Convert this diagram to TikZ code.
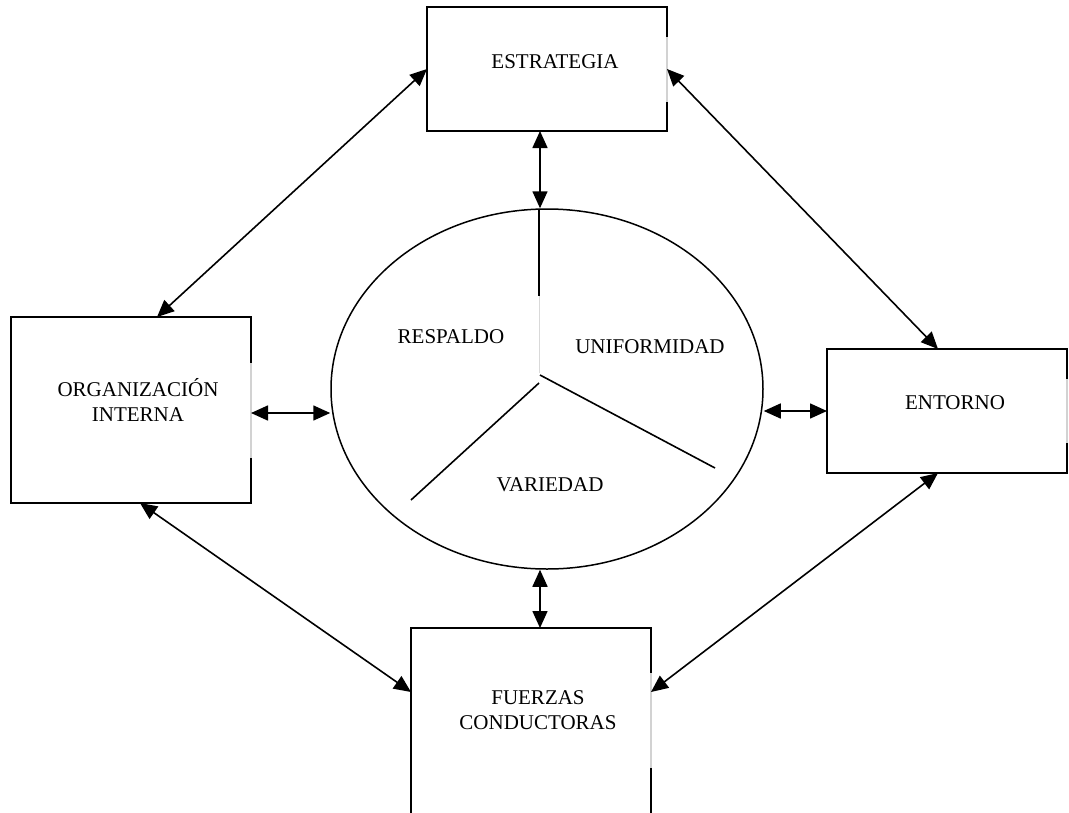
\documentclass[tikz,border=0pt]{standalone}
\usepackage{fontspec}
\setmainfont{Liberation Serif}
\usetikzlibrary{arrows.meta,shapes.geometric,calc}
\tikzset{
  box/.style={draw, line width=2pt, rectangle, minimum width=240pt, inner sep=0pt, outer sep=0pt},
  lbl/.style={font=\fontsize{21}{25}\selectfont, align=center, inner sep=0pt},
  link/.style={line width=1.6pt, {Triangle[length=17pt,width=15pt]}-{Triangle[length=17pt,width=15pt]}},
  gapline/.style={draw=gray!35, line width=2.2pt},
  divider/.style={line width=1.6pt},
}
\begin{document}
\begin{tikzpicture}[x=1pt,y=-1pt]
\useasboundingbox (0,0) rectangle (1069,812);
\fill[white] (0,0) rectangle (1069,812);
% boxes
\node[box, minimum height=124pt] (E) at (547,69) {};
\node[box, minimum height=186pt] (O) at (131,410) {};
\node[box, minimum height=124pt] (N) at (947,411) {};
\node[box, minimum height=190pt] (F) at (531,723) {};
% faint gaps on right edges
\draw[gapline] (667,37) -- (667,102);
\draw[gapline] (251,363) -- (251,458);
\draw[gapline] (1067,379) -- (1067,443);
\draw[gapline] (651,673) -- (651,768);
% texts
\node[lbl] (Et) at (555,62) {ESTRATEGIA};
\node[lbl] (Ot) at (138,400) {ORGANIZACIÓN\\INTERNA};
\node[lbl] (Nt) at (955,403) {ENTORNO};
\node[lbl] (Ft) at (538,710) {FUERZAS\\CONDUCTORAS};
% ellipse
\node[draw, ellipse, line width=1.5pt, minimum width=432pt, minimum height=360pt, inner sep=0pt] (ell) at (547,389) {};
\coordinate (c) at (540,375);
\draw[divider] (539,209) -- (539,296);
\draw[draw=gray!30, line width=1pt] (539,296) -- (539,373);
\draw[divider] (c) -- (715,468);
\draw[divider] (539,383) -- (411,500);
\node[lbl] (R) at (451,337) {RESPALDO};
\node[lbl] (U) at (650,347) {UNIFORMIDAD};
\node[lbl] (V) at (550,485) {VARIEDAD};
% connectors
\draw[link] (E.west) -- ([xshift=26pt]O.north);
\draw[link] (E.east) -- ([xshift=-9pt]N.north);
\draw[link] ([xshift=9pt]O.south) -- ([yshift=31pt]F.west);
\draw[link] ([xshift=-9pt]N.south) -- ([yshift=31pt]F.east);
\draw[link] ([yshift=-3pt]O.east) -- ([yshift=-3pt]O.east -| ell.west);
\draw[link] (N.west -| ell.east) -- (N.west);
\draw[link] ([xshift=-7pt]E.south) -- ([xshift=-7pt]ell.north);
\draw[link] ([xshift=-7pt]ell.south) -- ([xshift=9pt]F.north);
\end{tikzpicture}
\end{document}
